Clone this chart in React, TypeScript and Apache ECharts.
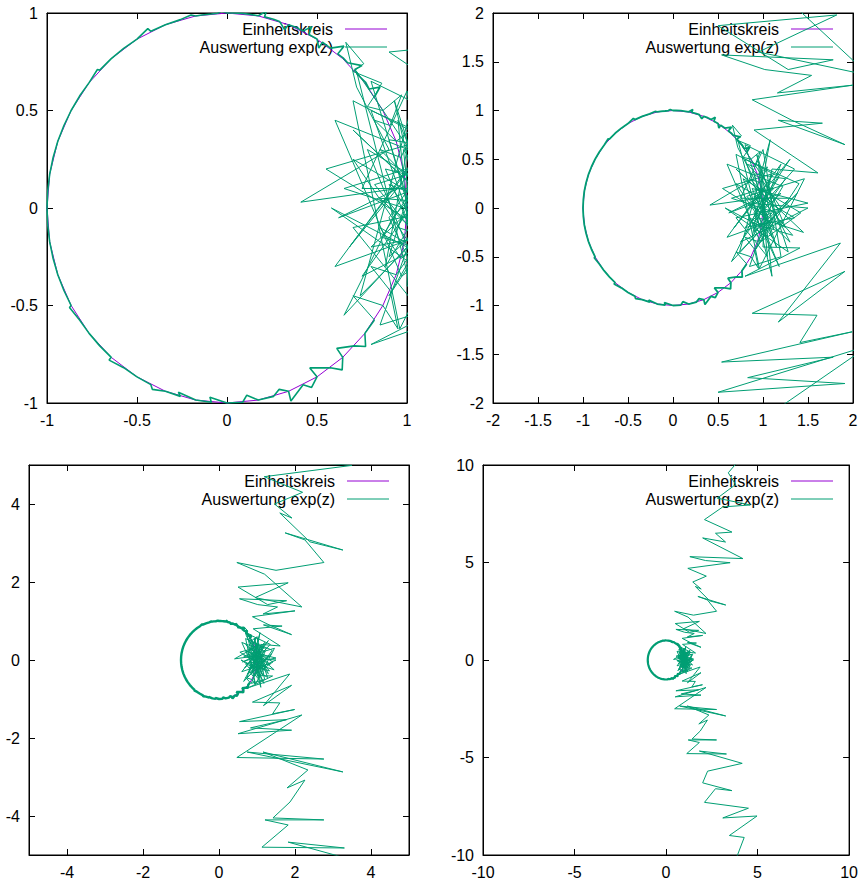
import React, { useEffect, useRef } from "react";
import * as echarts from "echarts";

// Unit circle ("Einheitskreis"), read at 10 degree steps
const unitCircle: number[][] = [
  [1, 0], [0.985, 0.174], [0.94, 0.342], [0.866, 0.5], [0.766, 0.643], [0.643, 0.766],
  [0.5, 0.866], [0.342, 0.94], [0.174, 0.985], [0, 1], [-0.174, 0.985], [-0.342, 0.94],
  [-0.5, 0.866], [-0.643, 0.766], [-0.766, 0.643], [-0.866, 0.5], [-0.94, 0.342],
  [-0.985, 0.174], [-1, 0], [-0.985, -0.174], [-0.94, -0.342], [-0.866, -0.5],
  [-0.766, -0.643], [-0.643, -0.766], [-0.5, -0.866], [-0.342, -0.94], [-0.174, -0.985],
  [0, -1], [0.174, -0.985], [0.342, -0.94], [0.5, -0.866], [0.643, -0.766],
  [0.766, -0.643], [0.866, -0.5], [0.94, -0.342], [0.985, -0.174], [1, 0],
];

// Noisy ring of the exp(z) evaluation (left, calmer part)
const ringLeft: number[][] = [
  [0.82, 0.57], [0.85, 0.62], [0.79, 0.61], [0.77, 0.645], [0.72, 0.69], [0.73, 0.68],
  [0.71, 0.71], [0.75, 0.73], [0.67, 0.745], [0.645, 0.77], [0.615, 0.79], [0.65, 0.83],
  [0.575, 0.82], [0.53, 0.85], [0.51, 0.82], [0.5, 0.867], [0.455, 0.89], [0.47, 0.93],
  [0.423, 0.907], [0.375, 0.93], [0.342, 0.94], [0.32, 0.915], [0.292, 0.957], [0.259, 0.968],
  [0.208, 0.98], [0.22, 1.01], [0.174, 0.986], [0.122, 0.994], [0.087, 0.998], [0.035, 1.0],
  [0.0, 1.0], [-0.03, 1.01], [-0.052, 0.999], [-0.087, 0.995], [-0.14, 0.99], [-0.174, 0.985],
  [-0.2, 0.99], [-0.259, 0.966], [-0.342, 0.94], [-0.423, 0.906], [-0.44, 0.92], [-0.5, 0.866],
  [-0.574, 0.819], [-0.643, 0.766], [-0.707, 0.707], [-0.72, 0.71], [-0.766, 0.643],
  [-0.819, 0.574], [-0.866, 0.5], [-0.906, 0.423], [-0.94, 0.342], [-0.966, 0.259],
  [-0.985, 0.174], [-0.996, 0.087], [-1.0, 0.0], [-0.996, -0.087], [-0.985, -0.174],
  [-0.966, -0.259], [-0.94, -0.342], [-0.906, -0.423], [-0.866, -0.5], [-0.875, -0.51],
  [-0.819, -0.574], [-0.766, -0.643], [-0.707, -0.707], [-0.643, -0.766], [-0.655, -0.78],
  [-0.574, -0.819], [-0.5, -0.866], [-0.423, -0.906], [-0.415, -0.93], [-0.342, -0.94],
  [-0.259, -0.966], [-0.27, -0.945], [-0.174, -0.985], [-0.087, -0.996], [-0.095, -0.97],
  [0, -1], [0.087, -0.996], [0.11, -0.96], [0.174, -0.985], [0.259, -0.966], [0.29, -0.93],
  [0.342, -0.94], [0.355, -0.99], [0.423, -0.906], [0.47, -0.92], [0.5, -0.866], [0.46, -0.82],
  [0.574, -0.819], [0.64, -0.83], [0.643, -0.766], [0.61, -0.72], [0.707, -0.707],
  [0.77, -0.71], [0.766, -0.643], [0.819, -0.574],
];

// Noisy ring of the exp(z) evaluation (right, spiky part)
const ringRight: number[][] = [
  [0.819, -0.574], [0.7, -0.45], [0.866, -0.5], [0.95, -0.62], [0.906, -0.423], [0.8, -0.3],
  [0.94, -0.342], [1.05, -0.2], [0.966, -0.259], [0.85, -0.1], [0.985, -0.174], [1.1, -0.05],
  [0.996, -0.087], [1, 0], [0.9, 0.12], [0.996, 0.087], [1.12, 0.2], [0.985, 0.174],
  [0.85, 0.3], [0.966, 0.259], [1.05, 0.42], [0.94, 0.342], [0.82, 0.45], [0.906, 0.423],
  [0.97, 0.58], [0.866, 0.5], [0.78, 0.52], [0.819, 0.574], [0.86, 0.64], [0.7, 0.7],
  [0.76, 0.74], [0.66, 0.85], [0.72, 0.62], [0.9, 0.3],
];

// Dense cluster around (1, 0)
const clusterPoints: number[][] = [
  [0.41, 0.03], [0.95, 0.1], [0.62, -0.05], [1.2, 0.15], [0.8, -0.2], [1.35, -0.1],
  [0.7, 0.25], [1.1, -0.3], [0.9, 0.35], [1.25, 0.3], [0.75, -0.35], [1.5, 0.0],
  [0.85, 0.05], [1.3, -0.35], [1.0, 0.2], [0.65, 0.1], [1.15, -0.05], [0.9, -0.45],
  [1.4, 0.25], [0.8, 0.5], [1.05, -0.15], [0.6, -0.3], [1.2, 0.45], [0.95, -0.1],
  [1.45, -0.25], [0.7, 0.4], [1.1, 0.05], [0.85, -0.6], [1.2, -0.5], [1.0, 0.6],
  [0.75, 0.1], [1.3, 0.1], [0.9, -0.25], [1.1, 0.35], [0.55, 0.2], [1.25, -0.2],
  [0.95, 0.45], [1.05, -0.5], [0.7, -0.1], [1.5, 0.05], [0.88, 0.2], [1.15, -0.4],
  [0.8, 0.65], [1.35, 0.4], [0.92, -0.05], [0.65, -0.55], [1.2, 0.0], [0.98, 0.3],
  [1.1, -0.7], [0.72, 0.7], [1.05, 0.25], [0.68, -0.2], [1.3, 0.5], [0.9, -0.05],
  [1.18, -0.6], [0.78, 0.3], [1.42, -0.05], [0.97, -0.35], [0.6, 0.45], [1.22, 0.22],
  [0.88, -0.3], [1.08, 0.7], [0.74, -0.45], [1.38, 0.15], [1.0, -0.2], [0.58, 0.0],
  [1.28, -0.45], [0.93, 0.55], [1.12, -0.22], [0.82, 0.12], [1.46, 0.3], [0.96, -0.62],
  [0.7, 0.55], [1.18, 0.32], [0.86, -0.15], [1.33, -0.28], [1.02, 0.05], [1.1, 0.4],
];

// Zig-zag arm going upwards
const upperArm: number[][] = [
  [1.61, 0.36], [0.9, 0.8], [1.66, 0.87], [1.17, 0.9], [1.91, 0.65], [1.32, 0.9],
  [0.88, 1.11], [2.0, 1.26], [1.16, 1.18], [1.54, 1.36], [1.02, 1.42], [0.54, 1.57],
  [1.78, 1.52], [1.28, 1.42], [0.5, 1.87], [1.82, 1.98], [0.95, 1.6], [2.18, 1.36],
  [1.2, 2.2], [0.47, 2.5], [1.5, 2.3], [2.76, 2.5], [2.26, 3.08], [1.74, 3.26],
  [3.26, 2.82], [2.39, 3.03], [1.6, 3.77], [1.92, 3.64], [1.46, 4.0], [2.2, 4.3],
  [1.19, 4.7], [3.5, 4.99], [2.16, 5.1], [1.3, 5.3], [4.2, 5.2], [2.0, 6.26],
  [3.25, 6.05], [2.7, 6.5], [3.6, 6.56], [2.1, 7.2], [3.1, 7.85], [4.6, 7.95],
  [2.8, 8.3], [3.8, 9.0], [3.4, 9.6], [4.3, 10.6], [3.5, 11],
];

// Zig-zag arm going downwards
const lowerArm: number[][] = [
  [1.0, -0.4], [1.41, -0.41], [0.8, -0.7], [1.86, -0.36], [1.17, -1.17], [1.91, -0.65],
  [0.88, -1.08], [1.6, -1.1], [1.41, -1.38], [1.99, -1.27], [0.54, -1.58], [1.78, -1.53],
  [0.83, -1.74], [1.91, -1.8], [0.5, -1.89], [2.18, -1.41], [0.47, -2.5], [2.76, -2.54],
  [0.74, -2.36], [3.26, -2.87], [1.16, -2.36], [2.34, -2.82], [1.79, -3.28], [2.26, -3.08],
  [1.87, -3.64], [1.42, -4.05], [2.76, -4.1], [1.21, -4.1], [1.82, -4.23], [1.13, -4.8],
  [3.3, -4.82], [1.82, -4.67], [4.16, -5.3], [2.27, -5.7], [2.0, -6.3], [3.6, -6.7],
  [2.7, -6.6], [2.1, -7.3], [4.5, -7.6], [3.1, -8.1], [4.97, -8.0], [3.46, -9.0],
  [4.27, -9.1], [3.7, -10.5], [4.6, -11],
];

const panelRanges = [1, 2, 5, 10];
const panelIntervals = [0.5, 0.5, 1, 5];
const panelTicks: number[][] = [
  [-1, -0.5, 0, 0.5, 1],
  [-2, -1.5, -1, -0.5, 0, 0.5, 1, 1.5, 2],
  [-4, -2, 0, 2, 4],
  [-10, -5, 0, 5, 10],
];
const legendLabels = ["Einheitskreis", "Auswertung exp(z)"];

const PURPLE = "#9400d3";
const GREEN = "#009e73";
const FONT = "Liberation Sans, Arial, sans-serif";

const rects = [
  { left: 47, top: 13, width: 360, height: 390 },
  { left: 493, top: 13, width: 360, height: 390 },
  { left: 29, top: 465, width: 380, height: 390 },
  { left: 483, top: 465, width: 370, height: 390 },
];
const ringWidths = [1.6, 1.8, 2.4, 2.2];

export default function App() {
  const ref = useRef<HTMLDivElement>(null);
  useEffect(() => {
    if (!ref.current) return;
    const chart = echarts.init(ref.current, undefined, { renderer: "svg" });
    const grid: any[] = [];
    const xAxis: any[] = [];
    const yAxis: any[] = [];
    const series: any[] = [];
    const graphic: any[] = [];

    rects.forEach((r, k) => {
      grid.push({ ...r, show: true, borderColor: "#000", borderWidth: 1, backgroundColor: "transparent" });
      const R = panelRanges[k];
      const ticks = panelTicks[k];
      const base = (pos: string, labels: boolean) => ({
        type: "value",
        gridIndex: k,
        position: pos,
        min: -R,
        max: R,
        interval: panelIntervals[k],
        axisLine: { show: true, onZero: false, lineStyle: { color: "#000", width: 1 } },
        splitLine: { show: false },
        axisTick: { show: true, inside: true, length: 6, customValues: ticks, lineStyle: { color: "#000", width: 1 } },
        axisLabel: {
          show: labels,
          customValues: ticks,
          color: "#000",
          fontSize: 16,
          fontFamily: FONT,
          margin: 9,
          showMinLabel: true,
          showMaxLabel: true,
        },
      });
      xAxis.push(base("bottom", true));
      xAxis.push(base("top", false));
      yAxis.push(base("left", true));
      yAxis.push(base("right", false));

      const common = {
        type: "line",
        xAxisIndex: 2 * k,
        yAxisIndex: 2 * k,
        showSymbol: false,
        symbol: "none",
        clip: true,
        animation: false,
      };
      series.push({ ...common, name: legendLabels[0], data: unitCircle, lineStyle: { color: PURPLE, width: 1 }, itemStyle: { color: PURPLE } });
      series.push({
        ...common,
        name: legendLabels[1],
        data: ringLeft,
        lineStyle: { color: GREEN, width: ringWidths[k] },
        itemStyle: { color: GREEN },
      });
      series.push({
        ...common,
        name: legendLabels[1],
        data: ringRight.concat(clusterPoints, upperArm),
        lineStyle: { color: GREEN, width: 1 },
        itemStyle: { color: GREEN },
      });
      series.push({
        ...common,
        name: legendLabels[1],
        data: [clusterPoints[clusterPoints.length - 2]].concat(lowerArm),
        lineStyle: { color: GREEN, width: 1 },
        itemStyle: { color: GREEN },
      });

      const right = r.left + r.width;
      [PURPLE, GREEN].forEach((c, i) => {
        const y = r.top + 16 + i * 18;
        graphic.push({
          type: "text",
          z: 1,
          style: { text: legendLabels[i], x: right - 74, y, align: "right", verticalAlign: "middle", font: `16px ${FONT}`, fill: "#000" },
        });
        graphic.push({
          type: "line",
          z: 1,
          shape: { x1: right - 62, y1: y, x2: right - 20, y2: y },
          style: { stroke: c, lineWidth: 1 },
        });
      });
    });

    chart.setOption({
      animation: false,
      backgroundColor: "#fff",
      grid,
      xAxis,
      yAxis,
      series,
      graphic,
    });
    return () => chart.dispose();
  }, []);
  return <div ref={ref} style={{ position: "fixed", left: 0, top: 0, width: 861, height: 882 }} />;
}
